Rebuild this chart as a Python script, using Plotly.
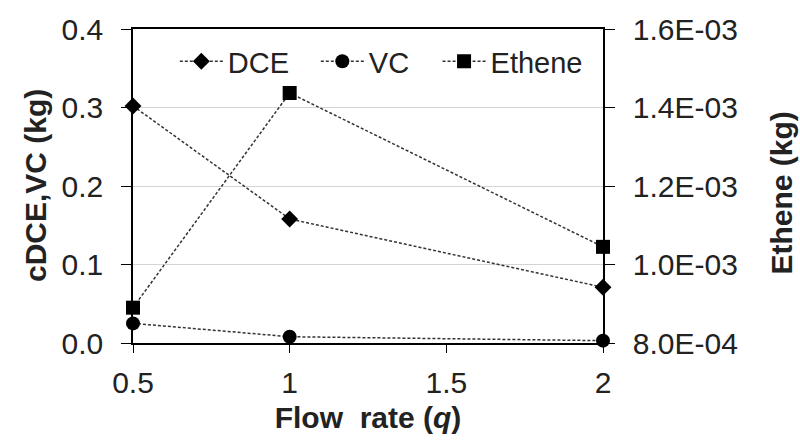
import plotly.graph_objects as go

flow_rate = [0.5, 1, 2]
dce = [0.302, 0.158, 0.071]
vc = [0.025, 0.008, 0.003]
ethene = [8.9e-4, 1.437e-3, 1.045e-3]

left_ticks = [0.0, 0.1, 0.2, 0.3, 0.4]
right_ticks = [8.0e-4, 1.0e-3, 1.2e-3, 1.4e-3, 1.6e-3]
right_labels = ["8.0E-04", "1.0E-03", "1.2E-03", "1.4E-03", "1.6E-03"]
x_ticks = [0.5, 1, 1.5, 2]
x_labels = ["0.5", "1", "1.5", "2"]

FONT = "Liberation Sans, Arial, sans-serif"
TICK_SIZE = 30
TITLE_SIZE = 30
line_style = dict(color="#333333", width=1.5, dash="3px,2px")

fig = go.Figure()
fig.add_trace(go.Scatter(x=flow_rate, y=dce, name="DCE", mode="lines+markers",
                         line=line_style, cliponaxis=False, legend="legend",
                         marker=dict(symbol="diamond", size=13, color="black")))
fig.add_trace(go.Scatter(x=flow_rate, y=vc, name="VC", mode="lines+markers",
                         line=line_style, cliponaxis=False, legend="legend2",
                         marker=dict(symbol="circle", size=14, color="black")))
fig.add_trace(go.Scatter(x=flow_rate, y=ethene, name="Ethene", mode="lines+markers",
                         line=line_style, cliponaxis=False, yaxis="y2", legend="legend3",
                         marker=dict(symbol="square", size=14, color="black")))

legend_common = dict(y=0.897, xanchor="left", yanchor="middle", itemwidth=43,
                     bgcolor="rgba(0,0,0,0)", font=dict(size=29, color="#222222"))

# y-axis titles placed as rotated annotations beside the tick labels
fig.add_annotation(text="<b>cDCE,VC (kg)</b>", xref="paper", yref="paper",
                   x=-0.2085, y=0.5, textangle=-90, showarrow=False,
                   xanchor="center", yanchor="middle",
                   font=dict(size=TITLE_SIZE, color="#222222"))
fig.add_annotation(text="<b>Ethene (kg)</b>", xref="paper", yref="paper",
                   x=1.38, y=0.478, textangle=-90, showarrow=False,
                   xanchor="center", yanchor="middle",
                   font=dict(size=TITLE_SIZE, color="#222222"))

fig.update_layout(
    width=800, height=441,
    margin=dict(l=133, r=197, t=23, b=98),
    paper_bgcolor="white", plot_bgcolor="white",
    font=dict(family=FONT, size=TICK_SIZE, color="#222222"),
    showlegend=True,
    legend=dict(x=0.089, **legend_common),
    legend2=dict(x=0.389, **legend_common),
    legend3=dict(x=0.648, **legend_common),
    xaxis=dict(range=[0.5, 2], tickvals=x_ticks, ticktext=x_labels,
               showline=True, linecolor="black", linewidth=1.5, mirror=True,
               ticks="outside", ticklen=8, tickcolor="black", showgrid=False,
               zeroline=False, ticklabelstandoff=4,
               title=dict(text="<b>Flow  rate (<i>q</i>)</b>",
                          font=dict(size=TITLE_SIZE), standoff=9)),
    yaxis=dict(range=[0, 0.4], tickvals=left_ticks, tickformat=".1f",
               showline=True, linecolor="black", linewidth=1.5,
               ticks="outside", ticklen=10, tickcolor="black", ticklabelstandoff=12,
               showgrid=True, gridcolor="#d4d4d4", gridwidth=1, zeroline=False),
    yaxis2=dict(range=[8e-4, 1.6e-3], tickvals=right_ticks, ticktext=right_labels,
                overlaying="y", side="right", anchor="x",
                showline=True, linecolor="black", linewidth=1.5,
                ticks="outside", ticklen=10, tickcolor="black", ticklabelstandoff=12,
                showgrid=False, zeroline=False),
)

fig.write_html("out.html")
